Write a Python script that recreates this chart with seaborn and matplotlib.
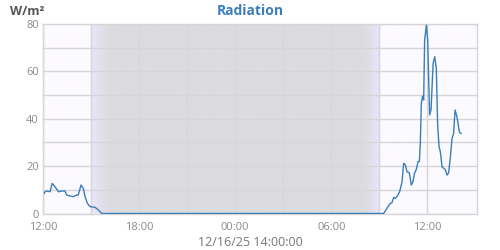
import numpy as np
import pandas as pd
import matplotlib
matplotlib.use("Agg")
import matplotlib.pyplot as plt
import seaborn as sns
from matplotlib.colors import to_rgb

# hours since 12:00 on 12/15/25
hours = [0.08, 0.125, 0.23, 0.44, 0.58, 0.75, 0.96, 1.17, 1.375, 1.48, 1.69, 1.9, 2.1, 2.2,
         2.375, 2.52, 2.625, 2.77, 2.94, 3.25, 3.46, 3.67,
         21.27, 21.48, 21.65, 21.79, 21.9, 22.0, 22.1, 22.27, 22.42, 22.52, 22.625, 22.73,
         22.875, 23.0, 23.1, 23.2, 23.3, 23.42, 23.5, 23.56, 23.625, 23.7, 23.77, 23.83,
         23.94, 24.02, 24.14, 24.23, 24.36, 24.46, 24.56, 24.64, 24.73, 24.81, 24.92,
         25.02, 25.125, 25.23, 25.33, 25.44, 25.54, 25.64, 25.73, 25.85, 25.96, 26.02, 26.125]
radiation = [8.5, 9.2, 9.5, 9.2, 12.7, 11.3, 9.2, 9.5, 9.5, 7.8, 7.4, 7.1, 7.8, 7.8,
             12.0, 10.6, 7.1, 4.3, 2.9, 2.6, 1.5, 0.0,
             0.0, 2.2, 4.0, 4.6, 6.8, 6.4, 7.1, 9.2, 13.4, 21.2, 20.5, 17.6,
             17.2, 12.0, 13.4, 17.0, 18.4, 21.9, 21.9, 29.6, 46.5, 49.6, 47.9, 73.2,
             79.5, 73.2, 41.6, 43.7, 63.4, 66.2, 61.3, 38.0, 28.2, 26.1, 19.7,
             19.1, 18.4, 16.2, 17.2, 24.0, 31.7, 33.8, 43.7, 40.8, 36.0, 34.1, 33.8]
tick_hours = [0, 6, 12, 18, 24]
tick_labels = ["12:00", "18:00", "00:00", "06:00", "12:00"]
y_ticks = [0, 20, 40, 60, 80]

df = pd.DataFrame({"h": hours, "v": radiation})

sns.set_style("white")
plt.rcParams["font.family"] = ["Open Sans", "DejaVu Sans"]

fig = plt.figure(figsize=(5, 2.5), dpi=100)
ax = fig.add_axes([0.086, 0.146, 0.868, 0.758])

xmax = 27.1
# background gradient (day / night)
day = np.array(to_rgb("#fcfaff"))
edge = np.array(to_rgb("#ebe4fc"))
gray = np.array(to_rgb("#dcdcdf"))
xs = np.linspace(0, xmax, 1200)
cols = np.zeros((1, len(xs), 3))
for i, x in enumerate(xs):
    if x < 3.0 or x > 21.06:
        c = day
    elif x < 4.1:
        t = (x - 3.0) / 1.1
        c = edge * (1 - t) + gray * t
    elif x < 20.1:
        c = gray
    else:
        t = (x - 20.1) / 0.96
        c = gray * (1 - t) + edge * t
    cols[0, i] = c
ax.imshow(cols, extent=[0, xmax, 0, 80], aspect="auto", zorder=0, interpolation="bilinear")

sns.lineplot(data=df, x="h", y="v", ax=ax, color="#3a7dbb", linewidth=1.0, zorder=3)

ax.set_xlim(0, xmax)
ax.set_ylim(0, 80)
ax.set_xticks(tick_hours)
ax.set_xticklabels(tick_labels)
ax.set_xticks(np.arange(3, 27, 3), minor=True)
ax.set_yticks(y_ticks)
ax.set_yticks([10, 30, 50, 70], minor=True)
ax.grid(True, which="both", color="#d6d6d6", linewidth=1.0, zorder=1)
for l in ax.get_xgridlines() + ax.get_ygridlines():
    l.set_zorder(1)
ax.tick_params(which="both", length=0, labelsize=8, colors="#8a8a8a")
ax.tick_params(axis="x", pad=6)
ax.tick_params(axis="y", pad=3)
for s in ax.spines.values():
    s.set_color("#d6d6d6")
    s.set_linewidth(1.0)
ax.set_xlabel("")
ax.set_ylabel("")

fig.text(0.5, 0.955, "Radiation", ha="center", va="center", fontsize=10,
         fontweight="bold", color="#3a7dbb")
fig.text(0.02, 0.955, "W/m²", ha="left", va="center", fontsize=9,
         fontweight="bold", color="#555555")
fig.text(0.5, 0.028, "12/16/25 14:00:00", ha="center", va="center", fontsize=9,
         color="#777777")

fig.savefig("out.png", dpi=100)
